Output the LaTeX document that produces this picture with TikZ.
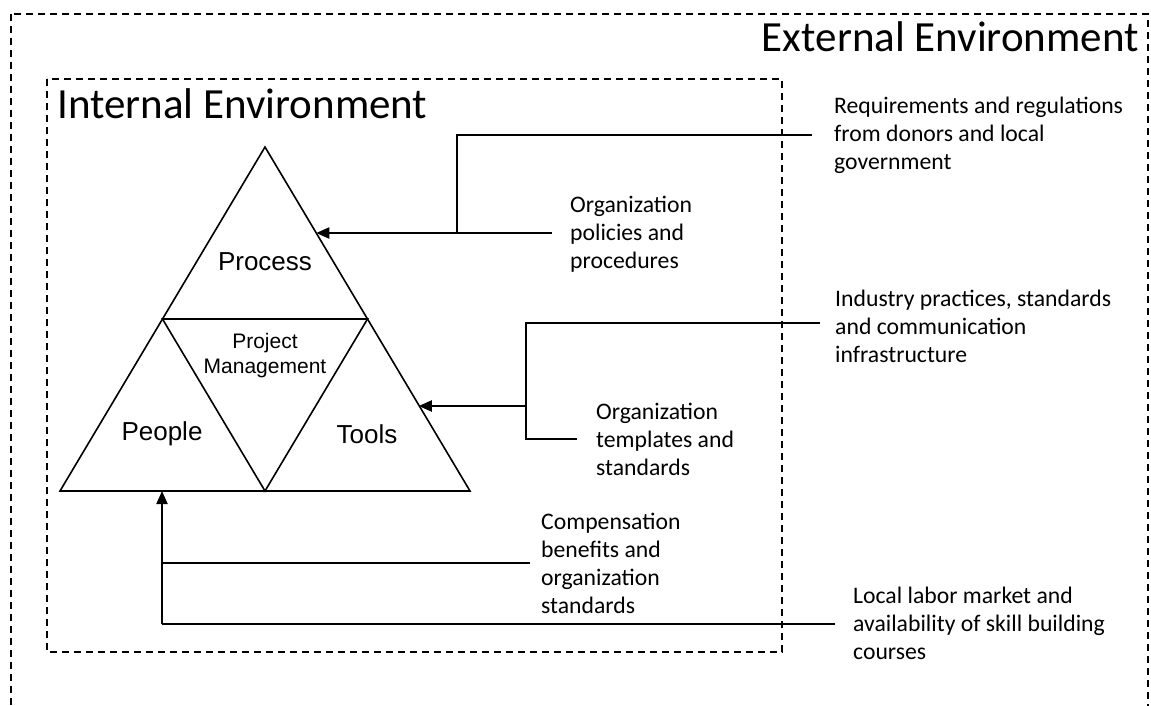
\documentclass[tikz,border=0pt]{standalone}
\usepackage{fontspec}
\setmainfont{Carlito}
\newfontfamily\arialfont{Liberation Sans}
\usetikzlibrary{arrows.meta,calc}
\begin{document}
\begin{tikzpicture}[x=1pt,y=-1pt,
  envbox/.style={draw, line width=1.3pt, dash pattern=on 7pt off 5pt},
  tri/.style={draw, line width=1.6pt, line join=miter},
  conn/.style={draw, line width=2pt},
  arr/.style={conn, -{Triangle[length=13pt,width=11pt]}},
  lbl/.style={font=\fontsize{23.7}{28.3}\selectfont, align=left, inner sep=0pt, anchor=base west},
  big/.style={font=\fontsize{43}{50}\selectfont, inner sep=0pt},
  tlbl/.style={font=\arialfont\fontsize{26}{30}\selectfont, inner sep=0pt},
  pm/.style={font=\arialfont\fontsize{21}{25}\selectfont, align=center, inner sep=0pt}
]
\useasboundingbox (0,0) rectangle (1151,706);
% environments
\draw[envbox] (11,14) rectangle (1148,760);
\draw[envbox] (47,79) rectangle (782,652);
\node[big, anchor=base east] (ext) at (1139,52) {External Environment};
\node[big, anchor=base west] (int) at (57,119) {Internal Environment};
% triangle
\coordinate (A) at (265,147);
\coordinate (BL) at (60,491);
\coordinate (BR) at (470,491);
\coordinate (ML) at ($(A)!0.5!(BL)$);
\coordinate (MR) at ($(A)!0.5!(BR)$);
\coordinate (MB) at ($(BL)!0.5!(BR)$);
\draw[tri] (A) -- (BL) -- (BR) -- cycle;
\draw[tri] (ML) -- (MR) -- (MB) -- cycle;
\node[tlbl] (process) at (265,262) {Process};
\node[tlbl] (people) at (162,434) {People};
\node[tlbl] (tools) at (367,434) {Tools};
\node[pm] (pmg) at (265,356) {Project\\Management};
% labels (y = baseline of the last line)
\node[lbl] (req) at (834,169.6) {Requirements and regulations\\from donors and local\\government};
\node[lbl] (opp) at (570,268.6) {Organization\\policies and\\procedures};
\node[lbl] (ind) at (835,362.6) {Industry practices, standards\\and communication\\infrastructure};
\node[lbl] (ots) at (596,475.6) {Organization\\templates and\\standards};
\node[lbl] (cbo) at (541,613.9) {Compensation\\benefits and\\organization\\standards};
\node[lbl] (llm) at (853,659.6) {Local labor market and\\availability of skill building\\courses};
% connectors: process
\coordinate (p1) at ($(A)!0.5!(MR)$);
\coordinate (j1) at (457,233);
\coordinate (e1a) at (812,135);
\coordinate (e1b) at (552,233);
\draw[conn] (e1a) -| (j1) -- (e1b);
\draw[arr] (j1) -- (p1);
% connectors: tools
\coordinate (j2) at (526,406);
\coordinate (t1) at ($(MR)!0.5!(BR)$);
\coordinate (e2a) at (820,323);
\coordinate (e2b) at (577,439);
\draw[conn] (e2a) -| (j2) |- (e2b);
\draw[arr] (j2) -- (t1 |- j2);
% connectors: people
\coordinate (j3) at (162,624);
\coordinate (j3b) at (162,563);
\coordinate (e3a) at (530,563);
\coordinate (e3b) at (835,624);
\draw[conn] (e3b) -- (j3);
\draw[conn] (j3b) -- (e3a);
\draw[arr] (j3) -- (j3 |- BL);
\end{tikzpicture}
\end{document}
